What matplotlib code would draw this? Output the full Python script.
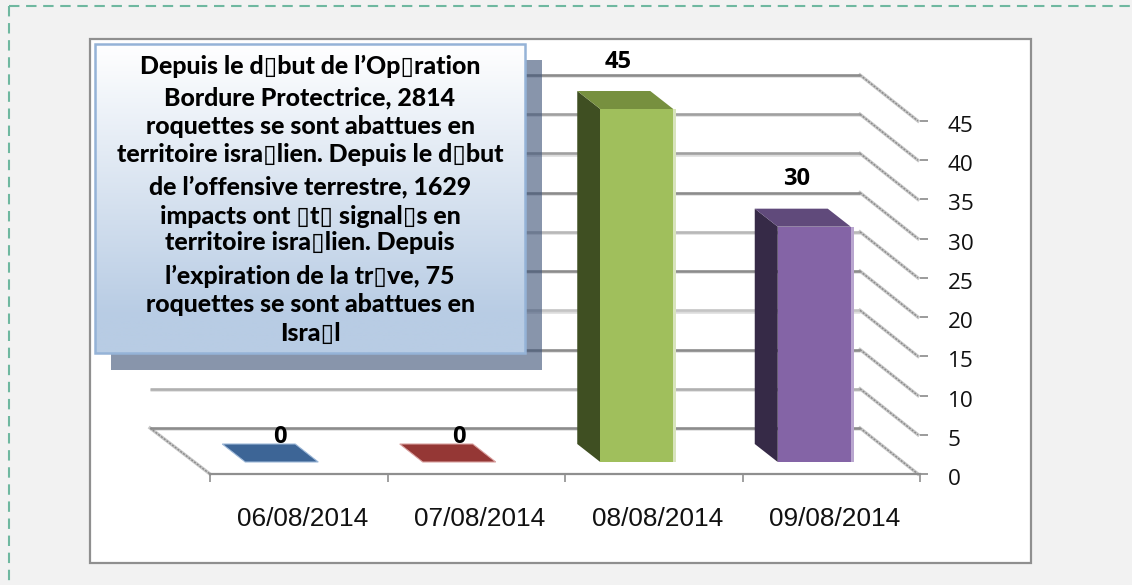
import numpy as np
import matplotlib
matplotlib.use("Agg")
import matplotlib.pyplot as plt
from matplotlib.patches import Polygon, Rectangle
from matplotlib.transforms import ScaledTranslation

# ---- data ----
categories = ["06/08/2014", "07/08/2014", "08/08/2014", "09/08/2014"]
values = [0, 0, 45, 30]
y_ticks = [0, 5, 10, 15, 20, 25, 30, 35, 40, 45]
note_lines = [
    "Depuis le d▯but de l’Op▯ration",
    "Bordure Protectrice, 2814",
    "roquettes se sont abattues en",
    "territoire isra▯lien. Depuis le d▯but",
    "de l’offensive terrestre, 1629",
    "impacts ont ▯t▯ signal▯s en",
    "territoire isra▯lien. Depuis",
    "l’expiration de la tr▯ve, 75",
    "roquettes se sont abattues en",
    "Isra▯l",
]

# ---- styles ----
W, H = 1132, 585
front_c = ["#3d6596", "#953735", "#a0bf5c", "#8464a6"]
top_c = ["#3d6596", "#953735", "#77903f", "#604a7b"]
side_c = ["#2a4668", "#6a2725", "#3f4f22", "#362a47"]
edge_c = ["#9db8d8", "#d9a09f", "#d8e4bc", "#b9a6cf"]
grid_c = {0: "#8c8c8c", 5: "#b0b0b0", 10: "#8c8c8c", 15: "#c4c4c4", 20: "#8c8c8c",
          25: "#b8b8b8", 30: "#8c8c8c", 35: "#a0a0a0", 40: "#a0a0a0", 45: "#8c8c8c"}

fig = plt.figure(figsize=(W / 100, H / 100), dpi=100, facecolor="#f2f2f2")

# page layer: dashed frame and chart box
bg = fig.add_axes([0, 0, 1, 1], zorder=0)
bg.set_xlim(0, W); bg.set_ylim(H, 0); bg.axis("off")
dash = "#6fb8a0"
bg.plot([9, 9], [6, H], color=dash, lw=1.5, ls=(0, (5, 3.2)))
bg.plot([9, W], [6, 6], color=dash, lw=1.5, ls=(0, (5, 3.2)))
bg.add_patch(Rectangle((90, 39), 941, 524, fc="white", ec="#8f8f8f", lw=1.6))

# chart layer: front plane spans the value and category axes
x0, x1, y0, y1 = 210, 920, 474, 121
ax = fig.add_axes([x0 / W, 1 - y0 / H, (x1 - x0) / W, (y0 - y1) / H], zorder=1)
ax.patch.set_alpha(0)
ax.set_xlim(0, len(categories))
ax.set_ylim(0, 45)
ux = len(categories) / (x1 - x0)   # data units per pixel
uy = 45 / (y0 - y1)

# 3D walls: gridlines on the back plane, diagonals on the side wall
back_dx, back_dy = -60 * ux, 46 * uy
for v in y_ticks:
    xs = [back_dx, len(categories) + back_dx - 0 * ux]
    ys = [v + back_dy, v + back_dy]
    ax.plot(xs, [y - 1.2 * uy for y in ys], color="#dcdcdc", lw=1.8, clip_on=False, zorder=1,
            solid_capstyle="butt")
    ax.plot(xs, ys, color=grid_c[v], lw=1.9, clip_on=False, zorder=1.1, solid_capstyle="butt")
    if v > 0:
        xr = len(categories)
        ax.plot([xr + back_dx, xr - 2 * ux], [v + back_dy, v], color="#c8c8c8", lw=2.4,
                clip_on=False, zorder=1)
        ax.plot([xr + back_dx, xr - 2 * ux], [v + back_dy, v], color="#8a8a8a", lw=1.0,
                ls=(0, (1.5, 1)), clip_on=False, zorder=1.1)
for x_end, x_start in [(0, back_dx), (len(categories) - 2 * ux, len(categories) + back_dx)]:
    ax.plot([x_start, x_end], [back_dy, 0], color="#c8c8c8", lw=2.4, clip_on=False, zorder=1)
    ax.plot([x_start, x_end], [back_dy, 0], color="#8a8a8a", lw=1.0, ls=(0, (1.5, 1)),
            clip_on=False, zorder=1.1)

# bars drawn as three faces
bar_w = 73 * ux
shift_x, base_y = -17 * ux, 12 * uy
depth_x, depth_y = -23 * ux, 18 * uy
label_off = [(-2, 7), (0, 7), (-19, 29), (-18, 30)]
for i, v in enumerate(values):
    xl = i + 0.5 + shift_x - bar_w / 2
    xr = xl + bar_w
    yb, yt = base_y, base_y + v
    z = 3
    if v > 0:
        ax.add_patch(Polygon([(xl, yb), (xl + depth_x, yb + depth_y),
                              (xl + depth_x, yt + depth_y), (xl, yt)],
                             fc=side_c[i], ec="none", clip_on=False, zorder=z))
        ax.add_patch(Rectangle((xl, yb), bar_w, v, fc=front_c[i], ec="none",
                               clip_on=False, zorder=z))
        ax.add_patch(Rectangle((xr, yb), 3 * ux, v, fc=edge_c[i], ec="none",
                               clip_on=False, zorder=z))
    ax.add_patch(Polygon([(xl, yt), (xr, yt), (xr + depth_x, yt + depth_y),
                          (xl + depth_x, yt + depth_y)],
                         fc=top_c[i], ec=edge_c[i] if v == 0 else "none", lw=0.8,
                         clip_on=False, zorder=z))
    ox, oy = label_off[i]
    ax.annotate(str(v), xy=(i + 0.5 + shift_x, yt + depth_y), xytext=(ox * 0.72, oy * 0.72),
                textcoords="offset points", ha="center", va="center",
                fontsize=17, fontweight="bold", family="Open Sans", color="black",
                zorder=5, annotation_clip=False)

# axes, ticks, labels
for s in ["top", "left"]:
    ax.spines[s].set_visible(False)
ax.spines["right"].set_visible(False)
ax.spines["bottom"].set_color("#8f8f8f")
ax.spines["bottom"].set_linewidth(1.6)
ax.yaxis.tick_right()
ax.set_yticks(y_ticks)
ax.set_yticklabels([str(v) for v in y_ticks], family="Open Sans", fontsize=16.2, color="#111111")
ax.tick_params(axis="y", length=6, width=1.1, color="#808080", pad=14)
off = ScaledTranslation(0, -3 / 100, fig.dpi_scale_trans)
for lab in ax.get_yticklabels():
    lab.set_transform(lab.get_transform() + off)
ax.set_xticks(np.arange(len(categories) + 1))
ax.set_xticklabels([])
ax.tick_params(axis="x", which="major", length=6, width=1.2, color="#8f8f8f")
ax.set_xticks(np.arange(len(categories)) + 0.5 + 3.5 * ux, minor=True)
ax.set_xticklabels(categories, minor=True, family="Liberation Sans", fontsize=18.9, color="#111111")
ax.tick_params(axis="x", which="minor", length=0, pad=23.5)

# overlay: note box with shadow
ov = fig.add_axes([0, 0, 1, 1], zorder=2)
ov.set_xlim(0, W); ov.set_ylim(H, 0); ov.axis("off"); ov.patch.set_alpha(0)
ov.add_patch(Rectangle((111, 60), 431, 310, fc="#3f5478", ec="none", alpha=0.62))
grad = np.linspace(0, 1, 256).reshape(-1, 1)
c_top, c_bot = np.array([255, 255, 255]) / 255, np.array([184, 204, 228]) / 255
t = np.clip(grad / 0.88, 0, 1)[..., None]
img = c_top * (1 - t) + c_bot * t
ov.imshow(img, extent=(95, 525, 353, 44), aspect="auto", zorder=2)
ov.set_xlim(0, W); ov.set_ylim(H, 0)
ov.add_patch(Rectangle((95, 44), 430, 309, fc="none", ec="#95b3d7", lw=1.8, zorder=3))
line_y = [66, 98, 127, 155, 187, 216, 243, 276, 305, 333]
for txt, y in zip(note_lines, line_y):
    ov.text(310, y, txt, ha="center", va="center", fontsize=17.9, fontweight=900,
            family=["Lato", "DejaVu Sans"], color="black", zorder=4)

fig.savefig("out.png", dpi=100, facecolor=fig.get_facecolor())
